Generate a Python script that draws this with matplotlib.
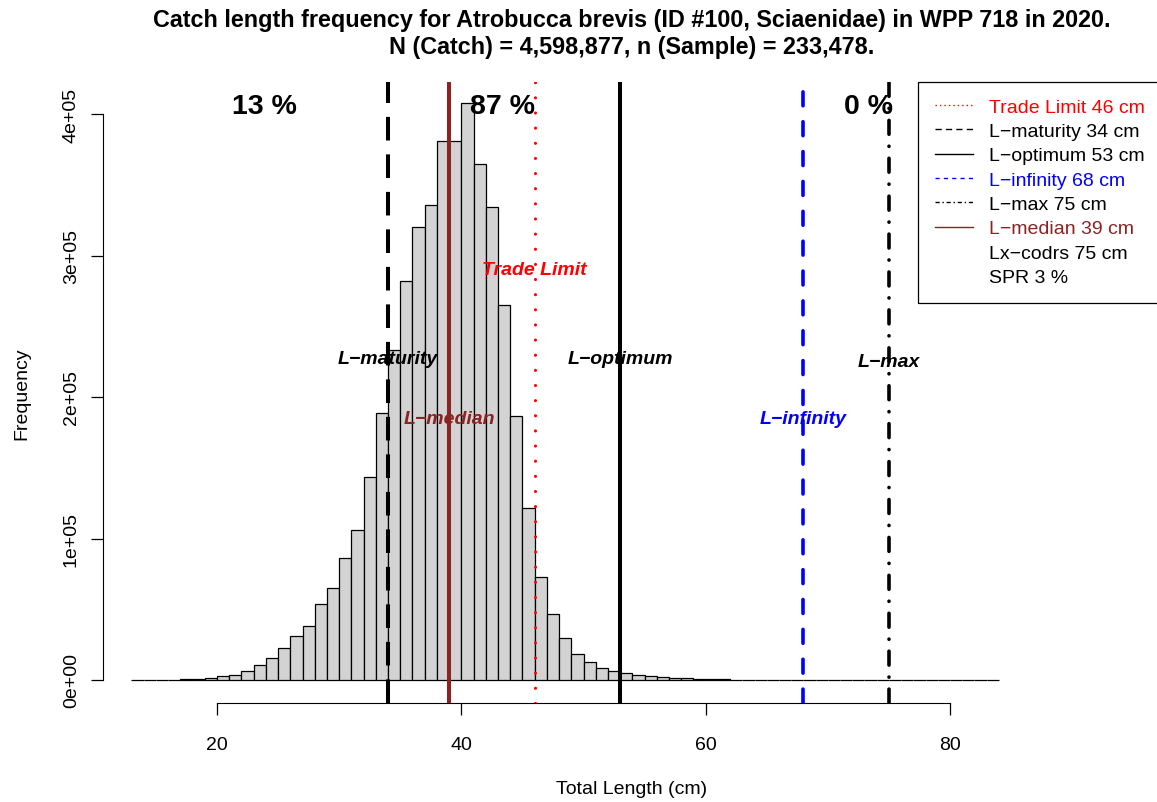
import matplotlib
matplotlib.use("Agg")
import matplotlib.pyplot as plt
from matplotlib.lines import Line2D
import numpy as np

plt.rcParams['font.family'] = ['Liberation Sans', 'DejaVu Sans']
plt.rcParams['lines.scale_dashes'] = False

# length classes (left edge of 1 cm bins) and catch counts per class
length_bins = list(range(13, 84))
catch_counts = [
    20, 50, 100, 200, 400, 800, 1400,                    # 13-19
    2600, 3800, 6600, 10600, 15800, 22900, 30900,        # 20-26
    38500, 53800, 64800, 86400, 106200, 143200, 188800,  # 27-33
    233400, 281800, 320200, 335600, 380900, 380900,      # 34-39
    407600, 364600, 334400, 265000, 186900, 121300,      # 40-45
    73000, 46600, 29600, 18600, 13000, 8500, 6600,       # 46-52
    5200, 3800, 2800, 2100, 1600, 1200, 900,             # 53-59
    600, 450, 300, 200, 150, 100, 70, 50, 30, 20,        # 60-69
    10, 8, 5, 4, 3, 2, 1, 1, 1, 0, 0, 0, 0, 0,           # 70-83
]

# reference points (cm)
ref_names = ['Trade Limit', 'L\u2212maturity', 'L\u2212optimum', 'L\u2212infinity', 'L\u2212max', 'L\u2212median']
ref_values = [46, 34, 53, 68, 75, 39]
ref_colors = ['red', 'black', 'black', 'blue', 'black', '#8B2323']
label_heights = [2.9e5, 2.27e5, 2.27e5, 1.85e5, 2.25e5, 1.85e5]
extra_legend = ['Lx\u2212codrs 75 cm', 'SPR 3 %']

pct_labels = ['13 %', '87 %', '0 %']
pct_x = [23.9, 43.4, 73.3]
pct_y = 4.06e5

title = ('Catch length frequency for Atrobucca brevis (ID #100, Sciaenidae) in WPP 718 in 2020.\n'
         'N (Catch) = 4,598,877, n (Sample) = 233,478.')

W, H = 1157, 803
fig = plt.figure(figsize=(W / 100, H / 100), dpi=100)
ax_l, ax_r, ax_t, ax_b = 103, 1160, 83, 704
ax = fig.add_axes([ax_l / W, 1 - ax_b / H, (ax_r - ax_l) / W, (ax_b - ax_t) / H])

# scale: 20 cm at px 217, 80 cm at px 950; 0 at px 681, 4e5 at px 115
pxcm = (950 - 217) / 60
px1e5 = (681 - 115) / 4
ax.set_xlim(20 + (ax_l - 217) / pxcm, 20 + (ax_r - 217) / pxcm)
ax.set_ylim(-(ax_b - 681) / px1e5 * 1e5, (681 - ax_t) / px1e5 * 1e5)

ax.bar(length_bins, catch_counts, width=1, align='edge', color='#D3D3D3',
       edgecolor='black', linewidth=0.9, zorder=2)

line_styles = [
    dict(lw=2.2, dashes=(0.1, 10.8), dash_capstyle='round'),
    dict(lw=2.9, dashes=(17, 10)),
    dict(lw=2.9, linestyle='-'),
    dict(lw=2.6, dashes=(10, 11.5), dash_capstyle='round'),
    dict(lw=2.6, dashes=(10, 8.6, 0.1, 8.6), dash_capstyle='round'),
    dict(lw=2.9, linestyle='-'),
]
for val, col, st in zip(ref_values, ref_colors, line_styles):
    ax.axvline(val, color=col, zorder=3, **st)

for name, val, col, yh in zip(ref_names, ref_values, ref_colors, label_heights):
    ax.text(val, yh, name, color=col, fontsize=14, fontweight='bold',
            fontstyle='italic', ha='center', va='center', zorder=5)

for lab, x in zip(pct_labels, pct_x):
    ax.text(x, pct_y, lab, fontsize=20.5, fontweight='bold', ha='center',
            va='center', zorder=5)

# R-style axes
for s in ['top', 'right']:
    ax.spines[s].set_visible(False)
ax.spines['bottom'].set_bounds(20, 80)
ax.spines['left'].set_bounds(0, 4e5)
ax.set_xticks([20, 40, 60, 80])
ax.set_yticks([0, 1e5, 2e5, 3e5, 4e5])
ax.set_yticklabels(['0e+00', '1e+05', '2e+05', '3e+05', '4e+05'])
ax.tick_params(axis='both', length=8.6, width=0.9, labelsize=14)
ax.tick_params(axis='x', pad=15.5)
ax.tick_params(axis='y', pad=8, labelrotation=90)
for lab in ax.get_yticklabels():
    lab.set_va('center')

ax.set_xlabel('Total Length (cm)', fontsize=14)
ax.set_ylabel('Frequency', fontsize=14)
ax.xaxis.set_label_coords(0.5, -(790 - ax_b) / (ax_b - ax_t))
ax.xaxis.label.set_va('center')
ax.yaxis.set_label_coords((21.7 - ax_l) / (ax_r - ax_l), 0.5)
ax.yaxis.label.set_va('center')

fig.text((ax_l + ax_r) / 2 / W, 1 - 34 / H, title, fontsize=16.8,
         fontweight='bold', ha='center', va='center', linespacing=1.2)

# legend
leg_styles = [
    dict(lw=1, dashes=(1, 2.2)),
    dict(lw=1, dashes=(4.5, 3)),
    dict(lw=1, linestyle='-'),
    dict(lw=1, dashes=(3, 3)),
    dict(lw=1, dashes=(3, 2, 1, 2)),
    dict(lw=1, linestyle='-'),
]
handles = [Line2D([0], [0], color=c, **st) for c, st in zip(ref_colors, leg_styles)]
handles += [Line2D([0], [0], color='none') for _ in extra_legend]
labels = [f'{n} {v} cm' for n, v in zip(ref_names, ref_values)] + extra_legend
text_colors = ref_colors + ['black', 'black']
leg = ax.legend(handles, labels, loc='upper left',
                bbox_to_anchor=(918 / W, 1 - 82.7 / H), bbox_transform=fig.transFigure,
                fontsize=14, frameon=True, fancybox=False, framealpha=1,
                edgecolor='black', handlelength=2.0, handletextpad=0.8,
                borderpad=0.85, labelspacing=0.345, borderaxespad=0,
                labelcolor=text_colors)
leg.get_frame().set_linewidth(0.9)
leg.set_zorder(6)

fig.savefig('out.png', dpi=100)
